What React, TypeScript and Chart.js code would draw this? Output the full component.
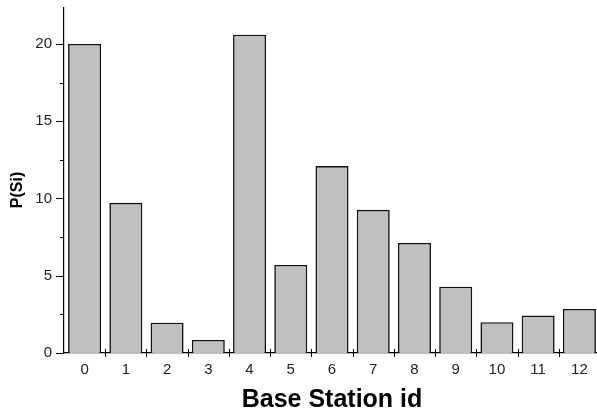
import React, { useEffect, useRef } from "react";
import { Chart, registerables } from "chart.js";

Chart.register(...registerables);

const categories = ["0", "1", "2", "3", "4", "5", "6", "7", "8", "9", "10", "11", "12"];
const values = [20.0, 9.72, 1.96, 0.84, 20.6, 5.7, 12.1, 9.27, 7.12, 4.29, 1.99, 2.42, 2.85];
const majorTicks = [0, 5, 10, 15, 20];
const minorTicks = [2.5, 7.5, 12.5, 17.5];
const xTitle = "Base Station id";
const yTitle = "P(Si)";

const FONT = "'Liberation Sans', Arial, sans-serif";

const tickPlugin = {
  id: "customTicks",
  afterDraw(chart: any) {
    const ctx = chart.ctx;
    const x = chart.scales.x;
    const y = chart.scales.y;
    const area = chart.chartArea;
    ctx.save();
    ctx.strokeStyle = "#000";
    ctx.lineWidth = 1;
    majorTicks.forEach((v) => {
      const py = Math.round(y.getPixelForValue(v)) + 0.5;
      ctx.beginPath();
      ctx.moveTo(area.left - 8, py);
      ctx.lineTo(area.left, py);
      ctx.stroke();
    });
    minorTicks.forEach((v) => {
      const py = Math.round(y.getPixelForValue(v)) + 0.5;
      ctx.beginPath();
      ctx.moveTo(area.left - 4, py);
      ctx.lineTo(area.left, py);
      ctx.stroke();
    });
    for (let i = 1; i < categories.length; i++) {
      const px = Math.round((x.getPixelForValue(i - 1) + x.getPixelForValue(i)) / 2) + 0.5;
      ctx.beginPath();
      ctx.moveTo(px, area.bottom - 4);
      ctx.lineTo(px, area.bottom + 4);
      ctx.stroke();
    }
    // y title
    ctx.translate(18, 190);
    ctx.rotate(-Math.PI / 2);
    ctx.font = `bold 16px ${FONT}`;
    ctx.fillStyle = "#000";
    ctx.textAlign = "center";
    ctx.textBaseline = "middle";
    ctx.fillText(yTitle, 0, 0);
    ctx.restore();
  },
};

export default function App() {
  const ref = useRef<HTMLCanvasElement>(null);
  useEffect(() => {
    if (!ref.current) return;
    const chart = new Chart(ref.current, {
      type: "bar",
      data: {
        labels: categories,
        datasets: [
          {
            data: values,
            backgroundColor: "#c0c0c0",
            borderColor: "#111",
            borderWidth: 1.6,
            categoryPercentage: 1,
            barPercentage: 0.8,
          },
        ],
      },
      options: {
        responsive: false,
        animation: false,
        layout: { padding: 0 },
        plugins: { legend: { display: false }, tooltip: { enabled: false } },
        scales: {
          x: {
            grid: { display: false, drawTicks: false },
            border: { display: true, color: "#000", width: 1.2 },
            ticks: { color: "#222", font: { family: FONT, size: 15 }, padding: 8, maxRotation: 0 },
            title: {
              display: true,
              text: xTitle,
              color: "#000",
              font: { family: FONT, size: 25, weight: "bold" },
              padding: 0,
            },
            afterFit: (s: any) => {
              s.height = 62;
              s.paddingLeft = 0;
              s.paddingRight = 0;
            },
          },
          y: {
            min: 0,
            max: 22.33,
            grid: { display: false, drawTicks: false },
            border: { display: true, color: "#000", width: 1.2 },
            ticks: {
              stepSize: 5,
              includeBounds: false,
              color: "#222",
              font: { family: FONT, size: 15 },
              padding: 12,
            },
            afterFit: (s: any) => {
              s.width = 64;
              s.paddingTop = 8;
              s.paddingBottom = 0;
            },
          },
        },
      },
      plugins: [tickPlugin],
    });
    return () => chart.destroy();
  }, []);
  return (
    <div
      style={{
        position: "fixed",
        left: 0,
        top: 0,
        width: 597,
        height: 415,
        overflow: "hidden",
        background: "#fff",
      }}
    >
      <canvas ref={ref} width={600} height={415} style={{ display: "block" }} />
    </div>
  );
}
